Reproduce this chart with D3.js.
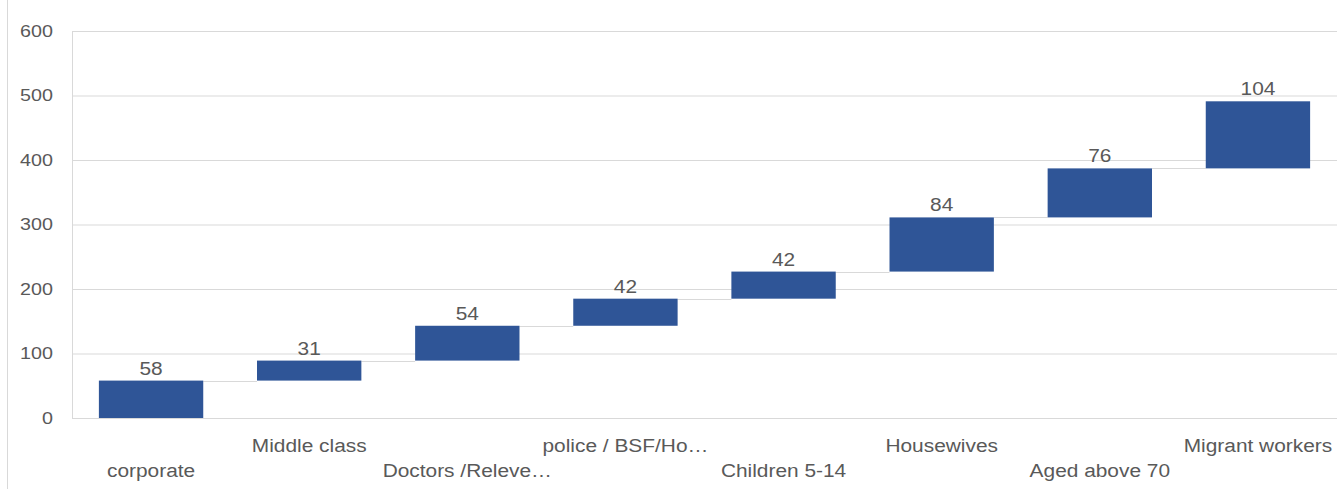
<!DOCTYPE html>
<html>
<head>
<meta charset="utf-8">
<script src="https://cdn.jsdelivr.net/npm/d3@7"></script>
<style>
  html, body { margin: 0; padding: 0; background: #fff; }
  svg { display: block; }
  text { font-family: "Liberation Sans", Arial, sans-serif; fill: #595959; }
</style>
</head>
<body>
<svg id="chart" width="1341" height="489"></svg>
<script>
// Waterfall: each group's contribution stacked on the running total
const categories = [
  "corporate", "Middle class", "Doctors /Releve\u2026", "police / BSF/Ho\u2026",
  "Children 5-14", "Housewives", "Aged above 70", "Migrant workers"
];
const values = [58, 31, 54, 42, 42, 84, 76, 104];
const yTicks = [0, 100, 200, 300, 400, 500, 600];

const W = 1341, H = 489;
const SX = 1.16; // horizontal stretch applied to all text
const svg = d3.select("#chart");

const plot = { left: 72, right: 1337, top: 31, bottom: 418 };

const x = d3.scaleBand()
  .domain(categories)
  .range([plot.left, plot.right])
  .paddingInner(0.34)
  .paddingOuter(0.17);

const y = d3.scaleLinear()
  .domain([0, 600])
  .range([plot.bottom, plot.top]);

// running totals: start / end of each floating bar
const ends = Array.from(d3.cumsum(values));
const rows = categories.map((c, i) => ({
  cat: c, value: values[i], start: i === 0 ? 0 : ends[i - 1], end: ends[i], i
}));

// outer chart frame (left edge)
svg.append("line")
  .attr("x1", 7.5).attr("x2", 7.5).attr("y1", 0).attr("y2", H)
  .attr("stroke", "#d9d9d9").attr("stroke-width", 1);

// gridlines + y axis
const yAxis = d3.axisLeft(y).tickValues(yTicks).tickSize(-(plot.right - plot.left)).tickPadding(19);
const gy = svg.append("g").attr("transform", `translate(${plot.left},0)`).call(yAxis);
gy.select(".domain").attr("stroke", "#d9d9d9");
gy.selectAll(".tick line").attr("stroke", "#d9d9d9").attr("stroke-width", 1);
gy.selectAll(".tick text")
  .attr("x", -19 / SX)
  .attr("transform", `scale(${SX},1)`)
  .attr("font-size", 17)
  .attr("fill", "#595959")
  .style("font-family", "Liberation Sans, Arial, sans-serif");

// connectors between consecutive bars
svg.append("g").selectAll("line")
  .data(rows.slice(0, -1))
  .join("line")
  .attr("x1", d => x(d.cat) + x.bandwidth())
  .attr("x2", d => x(categories[d.i + 1]))
  .attr("y1", d => Math.round(y(d.end)) + 0.5)
  .attr("y2", d => Math.round(y(d.end)) + 0.5)
  .attr("stroke", "#d9d9d9")
  .attr("stroke-width", 1);

// floating bars
svg.append("g").selectAll("rect")
  .data(rows)
  .join("rect")
  .attr("x", d => x(d.cat))
  .attr("width", x.bandwidth())
  .attr("y", d => y(d.end))
  .attr("height", d => y(d.start) - y(d.end))
  .attr("fill", "#2f5597");

// value labels
svg.append("g").selectAll("text")
  .data(rows)
  .join("text")
  .attr("transform", d => `translate(${x(d.cat) + x.bandwidth() / 2},${y(d.end) - 6}) scale(${SX},1)`)
  .attr("text-anchor", "middle")
  .attr("font-size", 18)
  .text(d => d.value);

// staggered category labels
svg.append("g").selectAll("text")
  .data(rows)
  .join("text")
  .attr("transform", d => `translate(${x(d.cat) + x.bandwidth() / 2},${d.i % 2 === 0 ? 477 : 452}) scale(${SX},1)`)
  .attr("text-anchor", "middle")
  .attr("font-size", 18)
  .text(d => d.cat);
</script>
</body>
</html>
